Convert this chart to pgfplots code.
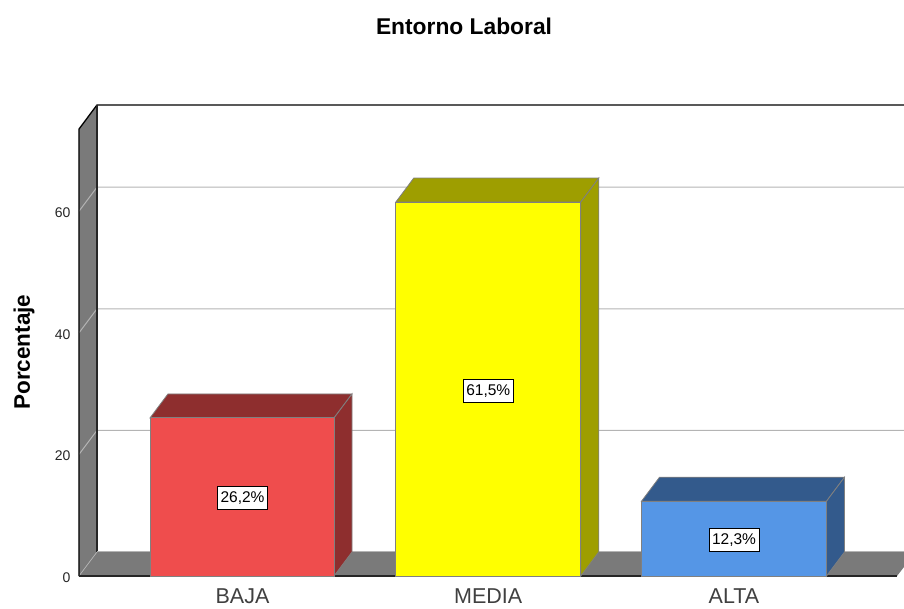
\documentclass[border=0pt]{standalone}
\usepackage{fontspec}
\setmainfont{Liberation Sans}
\usepackage{pgfplots}
\pgfplotsset{compat=1.18}
\definecolor{wallgray}{HTML}{7A7A7A}
\definecolor{gridgray}{HTML}{B4B4B4}
\definecolor{edgegray}{HTML}{808080}
\definecolor{redf}{HTML}{EF4D4D}
\definecolor{redd}{HTML}{8E2E2E}
\definecolor{yelf}{HTML}{FFFF00}
\definecolor{yeld}{HTML}{9E9E00}
\definecolor{bluf}{HTML}{5596E6}
\definecolor{blud}{HTML}{335A8C}
\tikzset{vlabel/.style={draw=black,line width=1pt,fill=white,inner sep=0pt,minimum width=50pt,minimum height=23pt,font=\fontsize{15.5}{15}\selectfont,text=black}}
\begin{document}
\begin{tikzpicture}[x=1pt,y=1pt]
\useasboundingbox (0,0) rectangle (904,608);
\begin{axis}[
  at={(79pt,32pt)},anchor=south west,
  scale only axis,width=825pt,height=471pt,
  xmin=-0.6653,xmax=2.6917,ymin=0,ymax=77.47,
  clip=false,
  axis line style={draw=none},
  tick style={draw=none},
  major tick length=0pt,
  xtick={0,1,2},xticklabels={BAJA,MEDIA,ALTA},
  ytick={0,20,40,60},
  /pgf/number format/assume math mode=true,
  xticklabel style={font=\fontsize{21.5}{22}\selectfont,text=black!75,yshift=-9pt},
  yticklabel style={font=\fontsize{14}{14}\selectfont,text=black!85,yshift=-1.5pt,xshift=-5pt},
  ylabel={\textbf{Porcentaje}},
  ylabel style={at={(axis description cs:-0.0665,0.4755)},anchor=center,font=\fontsize{22.5}{23}\selectfont},
  title={\textbf{Entorno Laboral}},
  title style={at={(axis description cs:0.4667,1.1535)},anchor=center,font=\fontsize{22.8}{23}\selectfont},
]
% left wall and floor
\addplot[fill=wallgray,draw=none] coordinates {(-0.6653,0)(-0.5921,3.95)(-0.5921,77.47)(-0.6653,73.52)} -- cycle;
\addplot[fill=wallgray,draw=none] coordinates {(-0.6653,0)(-0.5921,3.95)(2.6917,3.95)(2.6917,1.48)(2.6632,0)} -- cycle;
% gridlines on the back wall and left wall
\addplot[gridgray,line width=1pt] coordinates {(-0.6653,20)(-0.5921,23.95)(2.6917,23.95)};
\addplot[gridgray,line width=1pt] coordinates {(-0.6653,40)(-0.5921,43.95)(2.6917,43.95)};
\addplot[gridgray,line width=1pt] coordinates {(-0.6653,60)(-0.5921,63.95)(2.6917,63.95)};
\addplot[gridgray,line width=0.7pt] coordinates {(-0.6653,0)(-0.5921,3.95)};
% frame
\addplot[black,line width=1.3pt] coordinates {(-0.6653,0)(-0.6653,73.52)(-0.5921,77.47)(2.6917,77.47)};
\addplot[black!85,line width=1.1pt] coordinates {(-0.5921,77.47)(-0.5921,3.95)};
\addplot[gridgray,line width=1pt] coordinates {(-0.5921,3.95)(2.6917,3.95)};
\addplot[black!85,line width=1.3pt] coordinates {(-0.6653,0)(2.6632,0)};
% BAJA
\addplot[fill=redd,draw=edgegray,line width=0.8pt] coordinates {(-0.3764,26)(-0.3032,29.95)(0.4456,29.95)(0.3724,26)} -- cycle;
\addplot[fill=redd,draw=edgegray,line width=0.8pt] coordinates {(0.3724,0)(0.4456,3.95)(0.4456,29.95)(0.3724,26)} -- cycle;
\addplot[ybar,bar width=184pt,bar shift=-0.5pt,fill=redf,draw=edgegray,line width=1pt] coordinates {(0,26)};
% MEDIA
\addplot[fill=yeld,draw=edgegray,line width=0.8pt] coordinates {(0.6236,61.5)(0.6968,65.45)(1.4496,65.45)(1.3764,61.5)} -- cycle;
\addplot[fill=yeld,draw=edgegray,line width=0.8pt] coordinates {(1.3764,0)(1.4496,3.95)(1.4496,65.45)(1.3764,61.5)} -- cycle;
\addplot[ybar,bar width=185pt,bar shift=0pt,fill=yelf,draw=edgegray,line width=1pt] coordinates {(1,61.5)};
% ALTA
\addplot[fill=blud,draw=edgegray,line width=0.8pt] coordinates {(1.6236,12.3)(1.6968,16.25)(2.4496,16.25)(2.3764,12.3)} -- cycle;
\addplot[fill=blud,draw=edgegray,line width=0.8pt] coordinates {(2.3764,0)(2.4496,3.95)(2.4496,16.25)(2.3764,12.3)} -- cycle;
\addplot[ybar,bar width=185pt,bar shift=0pt,fill=bluf,draw=edgegray,line width=1pt] coordinates {(2,12.3)};
% value labels
\node[vlabel] at (axis cs:0,12.85) {26,2\%};
\node[vlabel] at (axis cs:1,30.45) {61,5\%};
\node[vlabel] at (axis cs:2,5.95) {12,3\%};
\end{axis}
\end{tikzpicture}
\end{document}
